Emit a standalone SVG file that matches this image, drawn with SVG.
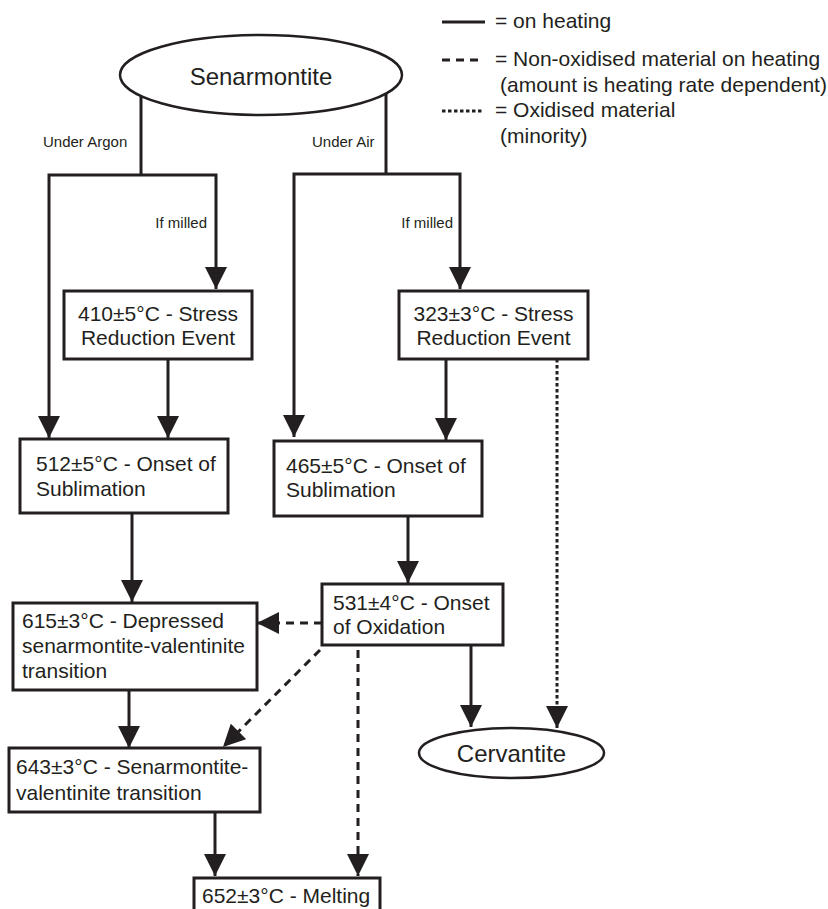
<svg xmlns="http://www.w3.org/2000/svg" width="828" height="909" viewBox="0 0 828 909">
<style>
  text { font-family: "Liberation Sans", Arial, sans-serif; fill: #231f20; }
  .t { font-size: 21px; }
  .big { font-size: 24px; text-anchor: middle; }
  .sm { font-size: 15px; }
  .c { text-anchor: middle; }
  .box { fill: #fff; stroke: #231f20; stroke-width: 3; }
  .ell { fill: #fff; stroke: #231f20; stroke-width: 2.5; }
  .ln { fill: none; stroke: #231f20; stroke-width: 3; }
  .dash { stroke-dasharray: 8 6; }
  .dot { stroke-dasharray: 3.5 2.5; }
</style>
<defs>
  <marker id="ah" markerUnits="userSpaceOnUse" markerWidth="22" markerHeight="22" refX="22" refY="11" orient="auto" viewBox="0 0 22 22">
    <path d="M0,0 L22,11 L0,22 Z" fill="#231f20"/>
  </marker>
</defs>

<g id="legend">
  <path class="ln" d="M442,22 H485"/>
  <text class="t" x="495" y="28">= on heating</text>
  <path class="ln dash" d="M442,60 H481"/>
  <text class="t" x="495" y="66">= Non-oxidised material on heating</text>
  <text class="t" x="500" y="92">(amount is heating rate dependent)</text>
  <path class="ln dot" d="M442,111 H484"/>
  <text class="t" x="495" y="117">= Oxidised material</text>
  <text class="t" x="500" y="143">(minority)</text>
</g>

<g id="connectors">
  <path class="ln" d="M141,96 V175"/>
  <path class="ln" d="M141,175 H49 V438" marker-end="url(#ah)"/>
  <path class="ln" d="M141,175 H216 V289" marker-end="url(#ah)"/>
  <path class="ln" d="M386,94 V174"/>
  <path class="ln" d="M386,174 H294 V437" marker-end="url(#ah)"/>
  <path class="ln" d="M386,174 H460 V289" marker-end="url(#ah)"/>
  <path class="ln" d="M168,359 V438" marker-end="url(#ah)"/>
  <path class="ln" d="M446,359 V440" marker-end="url(#ah)"/>
  <path class="ln" d="M132,513 V602" marker-end="url(#ah)"/>
  <path class="ln" d="M408,516 V583" marker-end="url(#ah)"/>
  <path class="ln" d="M471,645 V727" marker-end="url(#ah)"/>
  <path class="ln dot" d="M557,359 V728" marker-end="url(#ah)"/>
  <path class="ln dash" d="M322,623 H257" marker-end="url(#ah)"/>
  <path class="ln dash" d="M320,650 L223,747" marker-end="url(#ah)"/>
  <path class="ln" d="M129,690 V748" marker-end="url(#ah)"/>
  <path class="ln" d="M215,812 V876" marker-end="url(#ah)"/>
  <path class="ln dash" d="M358,650 V876" marker-end="url(#ah)"/>
  <text class="sm" x="43" y="147">Under Argon</text>
  <text class="sm" x="312" y="147">Under Air</text>
  <text class="sm" x="207" y="228" text-anchor="end">If milled</text>
  <text class="sm" x="453" y="228" text-anchor="end">If milled</text>
</g>

<g id="senarmontite">
  <ellipse class="ell" cx="261" cy="75" rx="141" ry="40"/>
  <text class="big" x="261" y="85">Senarmontite</text>
</g>
<g id="n410">
  <rect class="box" x="64" y="291" width="188" height="68"/>
  <text class="t c" x="158" y="321">410±5°C - Stress</text>
  <text class="t c" x="158" y="345">Reduction Event</text>
</g>
<g id="n323">
  <rect class="box" x="399" y="291" width="189" height="68"/>
  <text class="t c" x="493.5" y="321">323±3°C - Stress</text>
  <text class="t c" x="493.5" y="345">Reduction Event</text>
</g>
<g id="n512">
  <rect class="box" x="20" y="439" width="208" height="74"/>
  <text class="t" x="36" y="471">512±5°C - Onset of</text>
  <text class="t" x="36" y="496">Sublimation</text>
</g>
<g id="n465">
  <rect class="box" x="274" y="441" width="208" height="75"/>
  <text class="t" x="286" y="473">465±5°C - Onset of</text>
  <text class="t" x="286" y="497">Sublimation</text>
</g>
<g id="n531">
  <rect class="box" x="322" y="584" width="181" height="61"/>
  <text class="t" x="333" y="610">531±4°C - Onset</text>
  <text class="t" x="333" y="634">of Oxidation</text>
</g>
<g id="n615">
  <rect class="box" x="13" y="603" width="244" height="87"/>
  <text class="t" x="22" y="628">615±3°C - Depressed</text>
  <text class="t" x="22" y="653">senarmontite-valentinite</text>
  <text class="t" x="22" y="678">transition</text>
</g>
<g id="cervantite">
  <ellipse class="ell" cx="511.5" cy="753" rx="92.5" ry="25"/>
  <text class="big" x="511.5" y="762">Cervantite</text>
</g>
<g id="n643">
  <rect class="box" x="9" y="748" width="251" height="64"/>
  <text class="t" x="16" y="774">643±3°C - Senarmontite-</text>
  <text class="t" x="16" y="800">valentinite transition</text>
</g>
<g id="n652">
  <rect class="box" x="194" y="878" width="186" height="40"/>
  <text class="t" x="202" y="903">652±3°C - Melting</text>
</g>
</svg>
